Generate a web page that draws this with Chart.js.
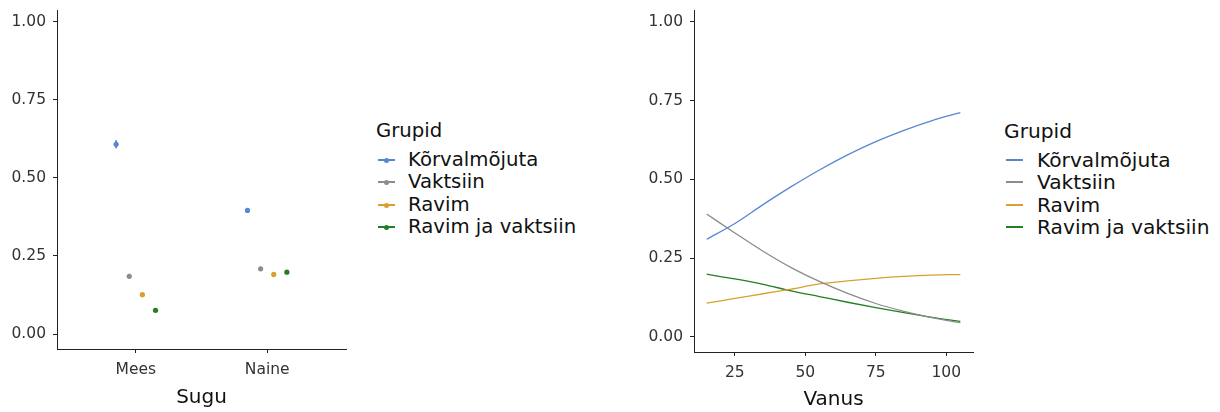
<!DOCTYPE html>
<html><head><meta charset="utf-8">
<script src="https://cdn.jsdelivr.net/npm/chart.js@4.4.1/dist/chart.umd.min.js"></script>
<style>
body{margin:0;background:#fff;width:1220px;height:412px;overflow:hidden;position:relative;font-family:"DejaVu Sans",sans-serif;}
canvas{position:absolute;top:0;}
.lt{position:absolute;line-height:22px;color:#111;white-space:nowrap;}
.li{position:absolute;line-height:22px;height:22px;color:#111;white-space:nowrap;}
.key{position:absolute;top:10px;width:17px;height:2px;}
.dot{position:absolute;top:-1.5px;left:6px;width:5px;height:5px;border-radius:50%;}
</style></head><body>
<canvas id="c1" width="360" height="412" style="left:0"></canvas>
<canvas id="c2" width="365" height="412" style="left:620px"></canvas>
<div id="leg1"></div>
<div id="leg2"></div>
<script>
// ---- data ----
const groups = ["Kõrvalmõjuta", "Vaktsiin", "Ravim", "Ravim ja vaktsiin"];
const colors = ["#5687d4", "#8c8c8c", "#d9a030", "#237f23"];
const sexCategories = ["Mees", "Naine"];
const dodge = [-0.15, -0.05, 0.05, 0.15];
// estimates per group: [Mees, Naine]
const sexEst = [[0.608, 0.396], [0.185, 0.209], [0.126, 0.191], [0.076, 0.198]];
const sexLow = [[0.595, 0.390], [0.177, 0.204], [0.121, 0.187], [0.072, 0.194]];
const sexHigh = [[0.621, 0.403], [0.193, 0.214], [0.131, 0.195], [0.080, 0.202]];
const ages = [15, 25, 35, 45, 55, 65, 75, 85, 95, 105];
const ageKorval = [0.310, 0.360, 0.420, 0.477, 0.530, 0.578, 0.620, 0.656, 0.687, 0.712];
const ageVaktsiin = [0.390, 0.330, 0.272, 0.220, 0.176, 0.138, 0.106, 0.081, 0.061, 0.045];
const ageRavim = [0.107, 0.122, 0.137, 0.152, 0.168, 0.178, 0.186, 0.192, 0.196, 0.198];
const ageRavimVaktsiin = [0.199, 0.184, 0.167, 0.146, 0.128, 0.110, 0.093, 0.077, 0.062, 0.049];
const ageSeries = [ageKorval, ageVaktsiin, ageRavim, ageRavimVaktsiin];
const yTicks = [0, 0.25, 0.5, 0.75, 1.0];
const ageTicks = [25, 50, 75, 100];

Chart.defaults.font.family = '"DejaVu Sans", sans-serif';
const axisColor = '#222';
const tickColor = '#333';

function yScale(width) {
  return {
    min: -0.048, max: 1.038,
    afterBuildTicks: s => { s.ticks = yTicks.map(v => ({value: v})); },
    afterFit: s => { s.width = width; s.paddingTop = 0; s.paddingBottom = 0; },
    ticks: {font: {size: 15.5}, color: tickColor, padding: 7, callback: v => Number(v).toFixed(2)},
    grid: {drawOnChartArea: false, tickLength: 4, color: axisColor, tickWidth: 1},
    border: {display: true, color: axisColor, width: 1}
  };
}

const errorBarPlugin = {
  id: 'errbars',
  afterDatasetsDraw(chart) {
    const ctx = chart.ctx, xs = chart.scales.x, ys = chart.scales.y;
    ctx.save();
    ctx.lineWidth = 1.8;
    groups.forEach((g, gi) => {
      ctx.strokeStyle = colors[gi];
      sexCategories.forEach((c, ci) => {
        const px = xs.getPixelForValue(ci + 1 + dodge[gi]);
        ctx.beginPath();
        ctx.moveTo(px, ys.getPixelForValue(sexLow[gi][ci]));
        ctx.lineTo(px, ys.getPixelForValue(sexHigh[gi][ci]));
        ctx.stroke();
      });
    });
    ctx.restore();
  }
};

new Chart(document.getElementById('c1'), {
  type: 'scatter',
  data: {
    datasets: groups.map((g, gi) => ({
      label: g,
      data: sexCategories.map((c, ci) => ({x: ci + 1 + dodge[gi], y: sexEst[gi][ci]})),
      backgroundColor: colors[gi], borderWidth: 0, pointRadius: 2.6
    }))
  },
  options: {
    responsive: false, animation: false, devicePixelRatio: 1,
    layout: {padding: {top: 10, right: 14, left: 0, bottom: 0}},
    plugins: {legend: {display: false}, tooltip: {enabled: false}},
    scales: {
      x: {
        type: 'linear', min: 0.4, max: 2.6,
        afterBuildTicks: s => { s.ticks = sexCategories.map((c, i) => ({value: i + 1})); },
        afterFit: s => { s.height = 63; s.paddingLeft = 0; s.paddingRight = 0; },
        ticks: {font: {size: 15.5}, color: tickColor, padding: 8, callback: v => sexCategories[Math.round(v) - 1]},
        grid: {drawOnChartArea: false, tickLength: 4, color: axisColor},
        border: {display: true, color: axisColor, width: 1},
        title: {display: true, text: 'Sugu', font: {size: 20}, color: '#111', padding: {top: 0, bottom: 2}}
      },
      y: yScale(57)
    }
  },
  plugins: [errorBarPlugin]
});

new Chart(document.getElementById('c2'), {
  type: 'line',
  data: {
    datasets: groups.map((g, gi) => ({
      label: g,
      data: ages.map((a, i) => ({x: a, y: ageSeries[gi][i]})),
      borderColor: colors[gi], borderWidth: 1.3, pointRadius: 0,
      cubicInterpolationMode: 'monotone', fill: false
    }))
  },
  options: {
    responsive: false, animation: false, devicePixelRatio: 1,
    layout: {padding: {top: 10, right: 12, left: 0, bottom: 0}},
    plugins: {legend: {display: false}, tooltip: {enabled: false}},
    scales: {
      x: {
        type: 'linear', min: 10.5, max: 109.5,
        afterBuildTicks: s => { s.ticks = ageTicks.map(v => ({value: v})); },
        afterFit: s => { s.height = 60; s.paddingLeft = 0; s.paddingRight = 0; },
        ticks: {font: {size: 15.5}, color: tickColor, padding: 8},
        grid: {drawOnChartArea: false, tickLength: 4, color: axisColor},
        border: {display: true, color: axisColor, width: 1},
        title: {display: true, text: 'Vanus', font: {size: 20}, color: '#111', padding: {top: 0, bottom: 0}}
      },
      y: yScale(74)
    }
  }
});

function buildLegend(id, left, withDot, fontSize) {
  const el = document.getElementById(id);
  let html = `<div class="lt" style="left:${left}px;top:120px;font-size:${fontSize}px">Grupid</div>`;
  groups.forEach((g, gi) => {
    const top = Math.round(149 + gi * 22.4);
    html += `<div class="li" style="left:${left + 2}px;top:${top}px;font-size:${fontSize}px">` +
      `<div class="key" style="background:${colors[gi]}">` +
      (withDot ? `<div class="dot" style="background:${colors[gi]}"></div>` : '') +
      `</div><span style="position:absolute;left:${withDot ? 30 : 31}px;top:0">${g}</span></div>`;
  });
  el.innerHTML = html;
}
buildLegend('leg1', 376, true, 19.7);
buildLegend('leg2', 1004, false, 20.2);
</script>
</body></html>
